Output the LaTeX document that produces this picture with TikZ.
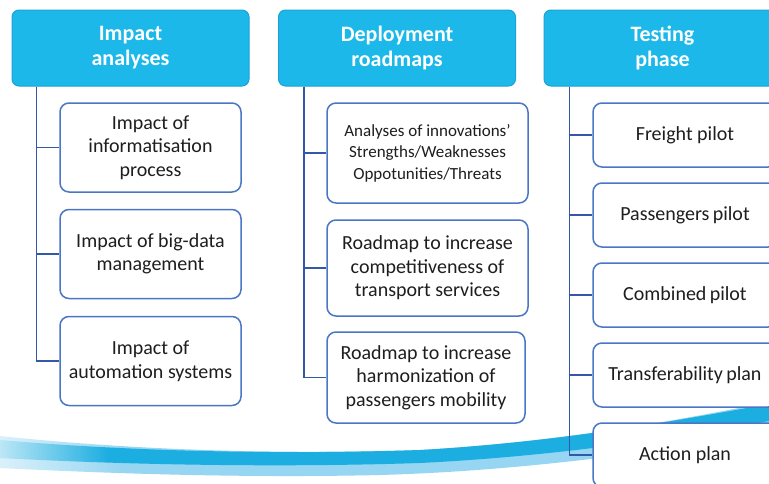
\documentclass[tikz,border=0pt]{standalone}
\usepackage{fontspec}
\setmainfont{Carlito}
\definecolor{headfill}{HTML}{1CB8EA}
\definecolor{headline}{HTML}{1AA3D4}
\definecolor{itemline}{HTML}{4A76C6}
\definecolor{linkblue}{HTML}{3358A8}
\definecolor{textgray}{HTML}{1E1E1E}
\definecolor{swooshdark}{HTML}{1DAEE1}
\definecolor{swooshlight}{HTML}{96D6F2}
\pgfdeclarehorizontalshading{swooshpale}{100bp}
  {color(0bp)=(white); color(25bp)=(white!65!swooshlight); color(33bp)=(swooshlight);
   color(100bp)=(swooshlight)}
\pgfdeclarehorizontalshading{swooshdeep}{100bp}
  {color(0bp)=(white); color(25bp)=(white!70!swooshdark); color(32bp)=(swooshdark);
   color(100bp)=(swooshdark)}
\begin{document}
\begin{tikzpicture}
  [x=1pt,y=-1pt,
   head/.style={draw=headline,fill=headfill,rounded corners=7pt,line width=1pt,
     minimum width=237pt,minimum height=76pt,inner sep=0pt,align=center,
     text=white,font=\fontsize{22}{25}\selectfont\bfseries},
   item/.style={draw=itemline,fill=white,rounded corners=9pt,line width=1.5pt,
     inner sep=0pt,align=center,text=textgray,
     font=\fontsize{20}{23.5}\selectfont},
   swot/.style={item,font=\fontsize{17}{21.5}\selectfont},
   link/.style={draw=linkblue,line width=1.8pt}]
        \clip (0,0) rectangle (769,483);
        \fill [white] (0,0) rectangle (769,483);
        \shade
          [shading=swooshpale]
          (0,436)
          .. controls (150,452) and (300,454) .. (420,450)
          .. controls (560,442) and (680,420) .. (769,402)
          -- (769,432)
          .. controls (660,452) and (520,471) .. (380,475)
          .. controls (250,478) and (120,474) .. (0,468)
          -- cycle
        ;
        \shade
          [shading=swooshdeep]
          (0,440)
          .. controls (150,453) and (300,454) .. (420,450)
          .. controls (560,442) and (680,420) .. (769,404)
          -- (769,421)
          .. controls (680,437) and (560,456) .. (420,463)
          .. controls (300,467) and (150,466) .. (0,458)
          -- cycle
        ;
        \node (impact head) [head] at (130.5,48) {Impact\\analyses};
        \node (impact one) [item,minimum width=181pt,minimum height=89pt]
          at (150.5,147.5) {Impact of\\informatisation\\process};
        \node (impact two) [item,minimum width=181pt,minimum height=89pt]
          at (150.5,254) {Impact of big-data\\management};
        \node (impact three) [item,minimum width=181pt,minimum height=89pt]
          at (150.5,361) {Impact of\\automation systems};
        \node (roadmap head) [head] at (397,48) {Deployment\\roadmaps};
        \node (roadmap one) [swot,minimum width=201pt,minimum height=100pt]
          at (427.5,153) {Analyses of innovations’\\Strengths/Weaknesses\\Oppotunities/Threats};
        \node (roadmap two) [item,minimum width=201pt,minimum height=96pt]
          at (427.5,268) {Roadmap to increase\\competitiveness of\\transport services};
        \node (roadmap three) [item,minimum width=198pt,minimum height=91pt]
          at (426,377.5) {Roadmap to increase\\harmonization of\\passengers mobility};
        \node (testing head) [head] at (662.5,48) {Testing\\phase};
        \foreach \name/\y/\label in
          {one/135/Freight pilot,
           two/215/Passengers\,pilot,
           three/295/Combined\,pilot,
           four/375/Transferability\,plan,
           five/455/Action plan}
        {
          \node (testing \name) [item,minimum width=184pt,minimum height=64pt]
            at (685,\y) {\label};
        }
        \foreach \name in {one,two,three}
        {
          \draw [link]
            ([xshift=25pt]impact head.south west)
            |- (impact \name.west)
          ;
          \draw [link]
            ([xshift=26pt]roadmap head.south west)
            |- (roadmap \name.west)
          ;
        }
        \foreach \name in {one,two,three,four,five}
        {
          \draw [link]
            ([xshift=26pt]testing head.south west)
            |- (testing \name.west)
          ;
        }
      \end{tikzpicture}
\end{document}
